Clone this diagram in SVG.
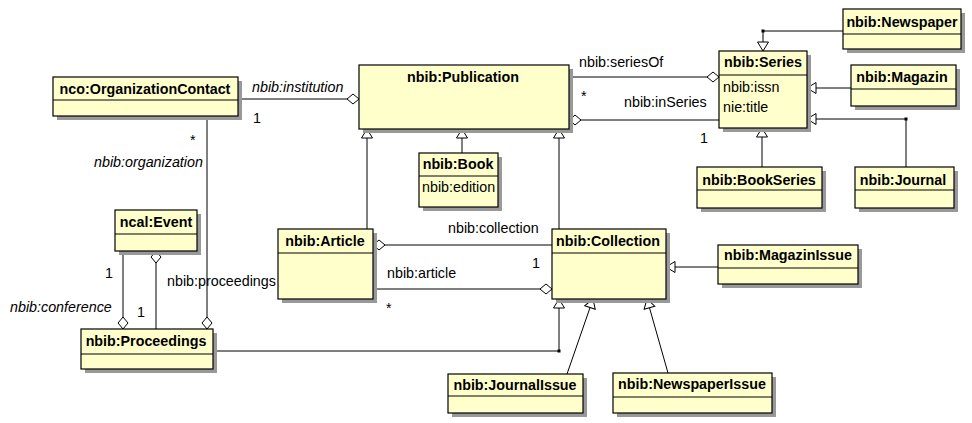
<svg xmlns="http://www.w3.org/2000/svg" width="972" height="423" viewBox="0 0 972 423">
<defs>
<style>
.sh{fill:#999999;stroke:none}
.bx{fill:#ffffcc;stroke:#000;stroke-width:1.2}
.dv{stroke:#000;stroke-width:1}
.t{font-family:"Liberation Sans",Arial,sans-serif;font-size:14.3px;font-weight:bold;fill:#000;text-anchor:middle}
.a{font-family:"Liberation Sans",Arial,sans-serif;font-size:14.3px;fill:#000}
.i{font-family:"Liberation Sans",Arial,sans-serif;font-size:14.3px;font-style:italic;fill:#000}
.c{fill:none;stroke:#000;stroke-width:1}
.dia{marker-end:url(#diamond)}
.gen{marker-end:url(#tri)}
</style>
<marker id="diamond" viewBox="-1 -1 14 12" refX="12" refY="5" markerWidth="14" markerHeight="12" markerUnits="userSpaceOnUse" orient="auto">
<path d="M0,5 L6,0 L12,5 L6,10 Z" fill="#fff" stroke="#000" stroke-width="1"/>
</marker>
<marker id="tri" viewBox="-1 -1 12 14" refX="9" refY="6" markerWidth="12" markerHeight="14" markerUnits="userSpaceOnUse" orient="auto">
<path d="M0,0.5 L9,6 L0,11.5 Z" fill="#fff" stroke="#000" stroke-width="1"/>
</marker>
</defs>
<rect width="972" height="423" fill="#fff"/>

<g id="connectors">
<path class="c dia" d="M238,99 H359"/>
<path class="c dia" d="M569,77 H719"/>
<path class="c dia" d="M719,120 H569"/>
<path class="c gen" d="M843,31 H763 V51"/>
<path class="c gen" d="M851,88 H807"/>
<path class="c gen" d="M906,167 V119 H807"/>
<path class="c gen" d="M762,167 V128"/>
<path class="c gen" d="M462,153 V129"/>
<path class="c gen" d="M367,229 V129"/>
<path class="c gen" d="M559,229 V129"/>
<path class="c dia" d="M552,245 H373"/>
<path class="c dia" d="M373,289 H552"/>
<path class="c gen" d="M718,267 H666"/>
<path class="c gen" d="M567,374 L593,299"/>
<path class="c gen" d="M668,373 L647,299"/>
<path class="c gen" d="M213,351 H559 V299"/>
<path class="c dia" d="M123,251 V329"/>
<path class="c dia" d="M156,329 V251"/>
<path class="c dia" d="M207,116 V329"/>
<rect x="761.5" y="29.5" width="3" height="3" fill="#000"/>
<rect x="904.5" y="117.5" width="3" height="3" fill="#000"/>
<rect x="557.5" y="349.5" width="3" height="3" fill="#000"/>
<text class="i" x="252" y="92">nbib:institution</text>
<text class="a" x="253" y="123">1</text>
<text class="a" x="190" y="145">*</text>
<text class="i" x="94" y="167">nbib:organization</text>
<text class="a" x="579" y="67">nbib:seriesOf</text>
<text class="a" x="581" y="101">*</text>
<text class="a" x="624" y="107">nbib:inSeries</text>
<text class="a" x="700" y="143">1</text>
<text class="a" x="448" y="233">nbib:collection</text>
<text class="a" x="387" y="278">nbib:article</text>
<text class="a" x="532" y="268">1</text>
<text class="a" x="386" y="313">*</text>
<text class="a" x="167" y="286">nbib:proceedings</text>
<text class="a" x="105" y="278">1</text>
<text class="i" x="10" y="312">nbib:conference</text>
<text class="a" x="137" y="317">1</text>
</g>

<g id="n-orgcontact">
<rect class="sh" x="57" y="81" width="185" height="39"/>
<rect class="bx" x="53" y="77" width="185" height="39"/>
<line class="dv" x1="53" y1="100" x2="238" y2="100"/>
<text class="t" x="145" y="94">nco:OrganizationContact</text>
</g>

<g id="n-publication">
<rect class="sh" x="363" y="69" width="210" height="64"/>
<rect class="bx" x="359" y="65" width="210" height="64"/>
<text class="t" x="463" y="82">nbib:Publication</text>
</g>

<g id="n-series">
<rect class="sh" x="723" y="55" width="88" height="77"/>
<rect class="bx" x="719" y="51" width="88" height="77"/>
<line class="dv" x1="719" y1="75" x2="807" y2="75"/>
<text class="t" x="763" y="67">nbib:Series</text>
<text class="a" x="723" y="92">nbib:issn</text>
<text class="a" x="723" y="112">nie:title</text>
</g>

<g id="n-newspaper">
<rect class="sh" x="847" y="13" width="118" height="40"/>
<rect class="bx" x="843" y="9" width="118" height="40"/>
<line class="dv" x1="843" y1="34" x2="961" y2="34"/>
<text class="t" x="902" y="27">nbib:Newspaper</text>
</g>

<g id="n-magazin">
<rect class="sh" x="855" y="69" width="105" height="41"/>
<rect class="bx" x="851" y="65" width="105" height="41"/>
<line class="dv" x1="851" y1="89" x2="956" y2="89"/>
<text class="t" x="902" y="82">nbib:Magazin</text>
</g>

<g id="n-bookseries">
<rect class="sh" x="701" y="171" width="125" height="41"/>
<rect class="bx" x="697" y="167" width="125" height="41"/>
<line class="dv" x1="697" y1="190" x2="822" y2="190"/>
<text class="t" x="759" y="185">nbib:BookSeries</text>
</g>

<g id="n-journal">
<rect class="sh" x="859" y="171" width="99" height="41"/>
<rect class="bx" x="855" y="167" width="99" height="41"/>
<line class="dv" x1="855" y1="190" x2="954" y2="190"/>
<text class="t" x="903" y="185">nbib:Journal</text>
</g>

<g id="n-book">
<rect class="sh" x="423" y="157" width="79" height="54"/>
<rect class="bx" x="419" y="153" width="79" height="54"/>
<line class="dv" x1="419" y1="176" x2="498" y2="176"/>
<text class="t" x="458" y="169">nbib:Book</text>
<text class="a" x="422" y="192">nbib:edition</text>
</g>

<g id="n-article">
<rect class="sh" x="282" y="233" width="95" height="70"/>
<rect class="bx" x="278" y="229" width="95" height="70"/>
<line class="dv" x1="278" y1="253" x2="373" y2="253"/>
<text class="t" x="325" y="246">nbib:Article</text>
</g>

<g id="n-collection">
<rect class="sh" x="556" y="233" width="114" height="70"/>
<rect class="bx" x="552" y="229" width="114" height="70"/>
<line class="dv" x1="552" y1="253" x2="666" y2="253"/>
<text class="t" x="608" y="246">nbib:Collection</text>
</g>

<g id="n-magazinissue">
<rect class="sh" x="722" y="249" width="140" height="39"/>
<rect class="bx" x="718" y="245" width="140" height="39"/>
<line class="dv" x1="718" y1="268" x2="858" y2="268"/>
<text class="t" x="788" y="260">nbib:MagazinIssue</text>
</g>

<g id="n-event">
<rect class="sh" x="119" y="214" width="82" height="41"/>
<rect class="bx" x="115" y="210" width="82" height="41"/>
<line class="dv" x1="115" y1="234" x2="197" y2="234"/>
<text class="t" x="156" y="227">ncal:Event</text>
</g>

<g id="n-proceedings">
<rect class="sh" x="85" y="333" width="132" height="40"/>
<rect class="bx" x="81" y="329" width="132" height="40"/>
<line class="dv" x1="81" y1="354" x2="213" y2="354"/>
<text class="t" x="146" y="346">nbib:Proceedings</text>
</g>

<g id="n-journalissue">
<rect class="sh" x="452" y="378" width="135" height="39"/>
<rect class="bx" x="448" y="374" width="135" height="39"/>
<line class="dv" x1="448" y1="396" x2="583" y2="396"/>
<text class="t" x="515" y="390">nbib:JournalIssue</text>
</g>

<g id="n-newspaperissue">
<rect class="sh" x="617" y="377" width="159" height="40"/>
<rect class="bx" x="613" y="373" width="159" height="40"/>
<line class="dv" x1="613" y1="397" x2="772" y2="397"/>
<text class="t" x="692" y="389">nbib:NewspaperIssue</text>
</g>
</svg>
